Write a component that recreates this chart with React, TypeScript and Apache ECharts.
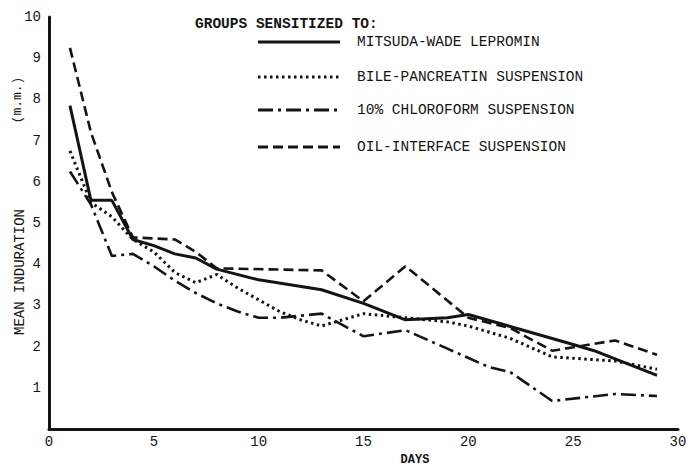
import React, { useEffect, useRef } from "react";
import * as echarts from "echarts";

const mitsudaDays = [1, 2, 3, 4, 5, 6, 7, 8, 10, 13, 15, 17, 19, 20, 25, 26, 29];
const mitsudaValues = [7.85, 5.55, 5.55, 4.6, 4.45, 4.25, 4.15, 3.88, 3.62, 3.38, 3.05, 2.65, 2.7, 2.78, 2.05, 1.9, 1.3];

const bileDays = [1, 2, 3, 4, 5, 6, 7, 8, 9, 11, 12, 13, 15, 17, 19, 20, 22, 24, 27, 29];
const bileValues = [6.75, 5.5, 5.15, 4.6, 4.3, 3.8, 3.55, 3.75, 3.42, 2.85, 2.65, 2.5, 2.8, 2.7, 2.6, 2.5, 2.2, 1.75, 1.65, 1.45];

const chloroDays = [1, 2, 3, 4, 5, 6, 7, 8, 9, 10, 11, 13, 15, 17, 19, 21, 22, 24, 27, 29];
const chloroValues = [6.25, 5.45, 4.2, 4.25, 3.95, 3.6, 3.3, 3.05, 2.85, 2.7, 2.7, 2.8, 2.25, 2.4, 1.95, 1.5, 1.38, 0.68, 0.85, 0.8];

const oilDays = [1, 2, 3, 4, 6, 7, 8, 13, 15, 17, 20, 22, 24, 27, 29];
const oilValues = [9.25, 7.2, 5.75, 4.65, 4.6, 4.3, 3.9, 3.85, 3.1, 3.95, 2.7, 2.45, 1.9, 2.15, 1.8];

const seriesNames = [
  "MITSUDA-WADE LEPROMIN",
  "BILE-PANCREATIN SUSPENSION",
  "10% CHLOROFORM SUSPENSION",
  "OIL-INTERFACE SUSPENSION",
];
const legendTitle = "GROUPS SENSITIZED TO:";
const xTitle = "DAYS";
const yTitle = "MEAN INDURATION";
const yUnit = "(m.m.)";

const INK = "#141414";
const FONT = "'Liberation Mono', 'DejaVu Sans Mono', monospace";

const dashStyles: (number[] | "solid")[] = [
  "solid",
  [2.5, 3.5],
  [15, 5, 3, 5],
  [10, 5],
];
const widths = [3, 3, 2.6, 2.6];

const pair = (d: number[], v: number[]) => d.map((x, i) => [x, v[i]]);

export default function App() {
  const ref = useRef<HTMLDivElement>(null);
  useEffect(() => {
    if (!ref.current) return;
    const chart = echarts.init(ref.current, undefined, { renderer: "svg" });
    const datasets = [
      pair(mitsudaDays, mitsudaValues),
      pair(bileDays, bileValues),
      pair(chloroDays, chloroValues),
      pair(oilDays, oilValues),
    ];
    const legendRowsY = [42, 77, 110, 147];
    const graphic: any[] = [
      {
        type: "text",
        x: 195,
        y: 24,
        style: {
          text: legendTitle,
          font: `bold 14.5px ${FONT}`,
          fill: INK,
          verticalAlign: "middle",
        },
      },
      {
        type: "text",
        x: 20,
        y: 272,
        rotation: Math.PI / 2,
        style: {
          text: yTitle,
          font: `14px ${FONT}`,
          fill: INK,
          align: "center",
          verticalAlign: "middle",
        },
      },
      {
        type: "text",
        x: 17,
        y: 100,
        rotation: Math.PI / 2,
        style: {
          text: yUnit,
          font: `13px ${FONT}`,
          fill: INK,
          align: "center",
          verticalAlign: "middle",
        },
      },
      {
        type: "text",
        x: 415,
        y: 460,
        style: {
          text: xTitle,
          font: `bold 12px ${FONT}`,
          fill: INK,
          align: "center",
          verticalAlign: "middle",
        },
      },
    ];
    seriesNames.forEach((name, i) => {
      const y = legendRowsY[i];
      graphic.push({
        type: "line",
        shape: { x1: 258, y1: y, x2: 340, y2: y },
        style: {
          stroke: INK,
          lineWidth: 3,
          lineDash: dashStyles[i] === "solid" ? null : dashStyles[i],
        },
      });
      graphic.push({
        type: "text",
        x: 357,
        y: y,
        style: {
          text: name,
          font: `14.5px ${FONT}`,
          fill: INK,
          verticalAlign: "middle",
        },
      });
    });

    chart.setOption({
      animation: false,
      backgroundColor: "#ffffff",
      grid: { left: 49, right: 12, top: 17, bottom: 38 },
      xAxis: {
        type: "value",
        min: 0,
        max: 30,
        interval: 5,
        axisLine: { show: true, onZero: false, lineStyle: { color: INK, width: 3 } },
        axisTick: { show: false },
        splitLine: { show: false },
        axisLabel: { color: INK, fontFamily: FONT, fontSize: 14, margin: 6 },
      },
      yAxis: {
        type: "value",
        min: 0,
        max: 10,
        interval: 1,
        axisLine: { show: true, onZero: false, lineStyle: { color: INK, width: 3 } },
        axisTick: { show: false },
        splitLine: { show: false },
        axisLabel: {
          color: INK,
          fontFamily: FONT,
          fontSize: 14,
          margin: 8,
          showMinLabel: false,
        },
      },
      graphic,
      series: datasets.map((data, i) => ({
        name: seriesNames[i],
        type: "line",
        data,
        symbol: "none",
        lineStyle: {
          color: INK,
          width: widths[i],
          type: dashStyles[i],
          cap: "butt",
        },
      })),
    });
    return () => chart.dispose();
  }, []);
  return (
    <div
      ref={ref}
      style={{ position: "fixed", left: 0, top: 0, width: 690, height: 467 }}
    />
  );
}
